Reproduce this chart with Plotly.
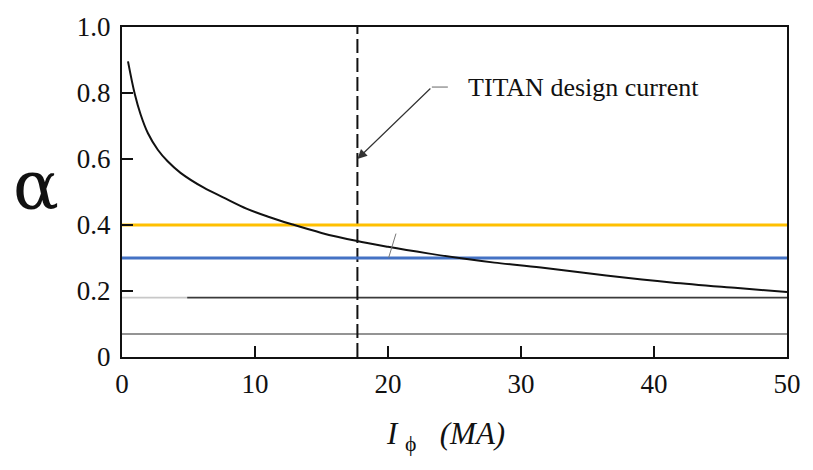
import plotly.graph_objects as go

# Normalised coefficient alpha versus plasma current I_phi (MA)
current_ma = [0.45, 0.96, 1.4, 1.95, 2.69, 3.43, 4.4, 6.15, 7.6, 9.4, 11.0, 12.7, 15.0,
              17.6, 20.0, 23.0, 25.5, 28.0, 31.5, 36.4, 41.3, 46.3, 50.0]
alpha = [0.896, 0.797, 0.735, 0.678, 0.628, 0.593, 0.558, 0.513, 0.484, 0.449, 0.425,
         0.403, 0.376, 0.352, 0.334, 0.314, 0.299, 0.286, 0.271, 0.247, 0.226, 0.209, 0.197]

# Horizontal reference levels
orange_level = 0.40
blue_level = 0.30
upper_gray_level = 0.18
lower_gray_level = 0.07
gray_fade_end = 4.9

# Design-current marker and its callout
design_current = 17.7
arrow_tip_alpha = 0.60
callout_start = [23.3, 0.818]
callout_tail_end = 24.5
callout_label = "TITAN design current"

# Small leader stroke on the curve
slash_x = [20.05, 20.6]
slash_y = [0.301, 0.374]

x_ticks = [0, 10, 20, 30, 40, 50]
y_ticks = [0, 0.2, 0.4, 0.6, 0.8, 1.0]
y_tick_text = ["0", "0.2", "0.4", "0.6", "0.8", "1.0"]
x_range = [0, 50]

SERIF = "Liberation Serif"

fig = go.Figure()

def hline(level, color, width, x0=x_range[0], x1=x_range[1]):
    fig.add_trace(go.Scatter(x=[x0, x1], y=[level, level], mode="lines",
                             line=dict(color=color, width=width),
                             hoverinfo="skip", showlegend=False, cliponaxis=False))

hline(lower_gray_level, "#707070", 1.5)
hline(upper_gray_level, "#c8c8c8", 1.6, x1=gray_fade_end)
hline(upper_gray_level, "#3a3a3a", 1.8, x0=gray_fade_end)

# Dashed design-current line
fig.add_trace(go.Scatter(x=[design_current, design_current], y=[0, 1], mode="lines",
                         line=dict(color="#111111", width=2, dash="14px,5px"),
                         hoverinfo="skip", showlegend=False))

hline(orange_level, "#FFC000", 3)
hline(blue_level, "#4472C4", 3)

# Alpha curve
fig.add_trace(go.Scatter(x=current_ma, y=alpha, mode="lines",
                         line=dict(color="#111111", width=2, shape="spline", smoothing=1.0),
                         showlegend=False))

fig.add_trace(go.Scatter(x=slash_x, y=slash_y, mode="lines",
                         line=dict(color="#777777", width=1),
                         hoverinfo="skip", showlegend=False))

# Callout: short horizontal tail plus arrow to the design-current line
fig.add_trace(go.Scatter(x=[callout_start[0], callout_tail_end],
                         y=[callout_start[1], callout_start[1]], mode="lines",
                         line=dict(color="#666666", width=1),
                         hoverinfo="skip", showlegend=False))
fig.add_annotation(x=design_current, y=arrow_tip_alpha, ax=callout_start[0], ay=callout_start[1],
                   xref="x", yref="y", axref="x", ayref="y", text="",
                   showarrow=True, arrowhead=2, arrowsize=1.6, arrowwidth=1.2,
                   arrowcolor="#333333")
fig.add_annotation(x=callout_tail_end + 1.4, y=callout_start[1], xref="x", yref="y",
                   text=callout_label, showarrow=False, xanchor="left", yanchor="middle",
                   font=dict(family=SERIF, size=26, color="#111111"))

# Axis titles
fig.add_annotation(x=-0.13, y=0.52, xref="paper", yref="paper", text="α",
                   showarrow=False, xanchor="center", yanchor="middle",
                   font=dict(family="DejaVu Serif", size=68, color="#111111"))
fig.add_annotation(x=0.487, y=-0.24, xref="paper", yref="paper",
                   text="<i>I</i> <sub>ϕ</sub>   <i>(MA)</i>",
                   showarrow=False, xanchor="center", yanchor="middle",
                   font=dict(family=SERIF, size=31, color="#111111"))

axis_common = dict(showgrid=False, zeroline=False, showline=True, linecolor="#111111",
                   linewidth=2, mirror=True, ticks="inside", ticklen=11, tickwidth=2,
                   tickcolor="#111111",
                   tickfont=dict(family=SERIF, size=27, color="#111111"))

fig.update_xaxes(range=x_range, tickvals=x_ticks, ticklabelstandoff=2, **axis_common)
fig.update_yaxes(range=[0, 1], tickvals=y_ticks, ticktext=y_tick_text,
                 ticklabelstandoff=4, **axis_common)

fig.update_layout(width=813, height=470, margin=dict(l=122, r=17, t=21, b=113),
                  plot_bgcolor="white", paper_bgcolor="white")

fig.write_html("out.html")
